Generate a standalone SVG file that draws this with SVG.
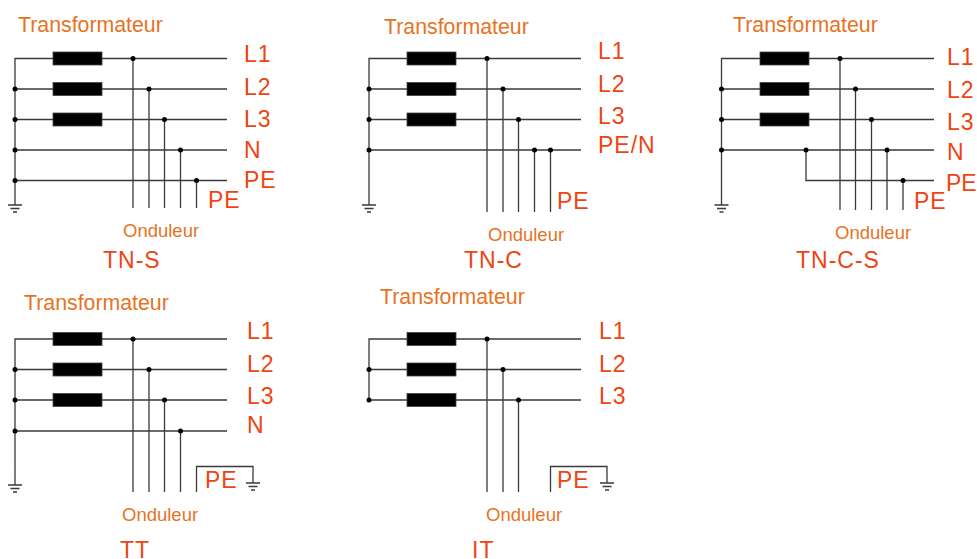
<svg xmlns="http://www.w3.org/2000/svg" width="977" height="559" viewBox="0 0 977 559">
<style>
text{font-family:"Liberation Sans",Arial,sans-serif}
.t{font-size:21.300px;fill:#e8731f}
.o{font-size:18.500px;fill:#e8731f}
.l{font-size:23px;fill:#ee4411;letter-spacing:1px}
.w{stroke:#3a3a3a;stroke-width:1.300;fill:none}
.x{fill:#000;stroke:#444;stroke-width:.8}
.d{fill:#000}
</style>
<defs>
<rect id="tr" x="0" y="-6.500" width="49" height="13" class="x"/>
<circle id="dot" r="2.500" class="d"/>
<path id="gnd" d="M-7 0H7M-4.500 3.500H4.500M-2 7H2" class="w"/>
</defs>

<g id="tn-s">
<g id="tn-s-connectors">
<path class="w" d="M15 205V58.500H227M15 89H227M15 119.500H227M15 150H227M15 180.500H227M133 58.500V208M149 89V208M164.500 119.500V208M180.500 150V208M196.500 180.500V208"/>
</g>
<use href="#gnd" x="15" y="205"/>
<use href="#tr" x="53" y="58.500"/><use href="#tr" x="53" y="89"/><use href="#tr" x="53" y="119.500"/>
<use href="#dot" x="15" y="89"/><use href="#dot" x="15" y="119.500"/><use href="#dot" x="15" y="150"/><use href="#dot" x="15" y="180.500"/>
<use href="#dot" x="133" y="58.500"/><use href="#dot" x="149" y="89"/><use href="#dot" x="164.500" y="119.500"/><use href="#dot" x="180.500" y="150"/><use href="#dot" x="196.500" y="180.500"/>
<text class="t" x="18" y="32">Transformateur</text>
<text class="l" x="244" y="62">L1</text><text class="l" x="244" y="95">L2</text><text class="l" x="244" y="127">L3</text><text class="l" x="244" y="158">N</text><text class="l" x="244" y="188">PE</text><text class="l" x="208" y="208">PE</text>
<text class="o" x="123" y="237">Onduleur</text>
<text class="l" x="103" y="268">TN-S</text>
</g>

<g id="tn-c">
<g id="tn-c-connectors">
<path class="w" d="M369 205V58.500H581M369 89H581M369 119.500H581M369 150H581M487 58.500V212M503 89V212M518.500 119.500V212M534.500 150V212M550.500 150V212"/>
</g>
<use href="#gnd" x="369" y="205"/>
<use href="#tr" x="407" y="58.500"/><use href="#tr" x="407" y="89"/><use href="#tr" x="407" y="119.500"/>
<use href="#dot" x="369" y="89"/><use href="#dot" x="369" y="119.500"/><use href="#dot" x="369" y="150"/>
<use href="#dot" x="487" y="58.500"/><use href="#dot" x="503" y="89"/><use href="#dot" x="518.500" y="119.500"/><use href="#dot" x="534.500" y="150"/><use href="#dot" x="550.500" y="150"/>
<text class="t" x="384" y="34">Transformateur</text>
<text class="l" x="598" y="59">L1</text><text class="l" x="598" y="92">L2</text><text class="l" x="598" y="124">L3</text><text class="l" x="598" y="153">PE/N</text><text class="l" x="557" y="209">PE</text>
<text class="o" x="488" y="241">Onduleur</text>
<text class="l" x="464" y="268">TN-C</text>
</g>

<g id="tn-c-s">
<g id="tn-c-s-connectors">
<path class="w" d="M721.500 205V58.500H934M721.500 89H934M721.500 119.500H934M721.500 150H934M806 150V180.500H934M840 58.500V210M855.500 89V210M871.500 119.500V210M887 150V210M903 180.500V210"/>
</g>
<use href="#gnd" x="721.500" y="205"/>
<use href="#tr" x="760" y="58.500"/><use href="#tr" x="760" y="89"/><use href="#tr" x="760" y="119.500"/>
<use href="#dot" x="721.500" y="89"/><use href="#dot" x="721.500" y="119.500"/><use href="#dot" x="721.500" y="150"/><use href="#dot" x="806" y="150"/>
<use href="#dot" x="840" y="58.500"/><use href="#dot" x="855.500" y="89"/><use href="#dot" x="871.500" y="119.500"/><use href="#dot" x="887" y="150"/><use href="#dot" x="903" y="180.500"/>
<text class="t" x="733" y="32">Transformateur</text>
<text class="l" x="947" y="65">L1</text><text class="l" x="947" y="98">L2</text><text class="l" x="947" y="130">L3</text><text class="l" x="947" y="160">N</text><text class="l" x="946" y="191" style="letter-spacing:0">PE</text><text class="l" x="914" y="209">PE</text>
<text class="o" x="835" y="239">Onduleur</text>
<text class="l" x="796" y="268">TN-C-S</text>
</g>

<g id="tt">
<g id="tt-connectors">
<path class="w" d="M15 485V339H227M15 369.500H227M15 400H227M15 431H227M133 339V492M149 369.500V492M164.500 400V492M180.500 431V492M196.500 492V466.500H253V483"/>
</g>
<use href="#gnd" x="15" y="485"/><use href="#gnd" x="253" y="483"/>
<use href="#tr" x="53" y="339"/><use href="#tr" x="53" y="369.500"/><use href="#tr" x="53" y="400"/>
<use href="#dot" x="15" y="369.500"/><use href="#dot" x="15" y="400"/><use href="#dot" x="15" y="431"/>
<use href="#dot" x="133" y="339"/><use href="#dot" x="149" y="369.500"/><use href="#dot" x="164.500" y="400"/><use href="#dot" x="180.500" y="431"/>
<text class="t" x="24" y="310">Transformateur</text>
<text class="l" x="247" y="339">L1</text><text class="l" x="247" y="372">L2</text><text class="l" x="247" y="404">L3</text><text class="l" x="247" y="433">N</text><text class="l" x="205" y="488">PE</text>
<text class="o" x="122" y="521">Onduleur</text>
<text class="l" x="120" y="558">TT</text>
</g>

<g id="it">
<g id="it-connectors">
<path class="w" d="M369 400V339H581M369 369.500H581M369 400H581M487 339V492M503 369.500V492M518.500 400V492M550.500 492V466.500H607V483"/>
</g>
<use href="#gnd" x="607" y="483"/>
<use href="#tr" x="407" y="339"/><use href="#tr" x="407" y="369.500"/><use href="#tr" x="407" y="400"/>
<use href="#dot" x="369" y="369.500"/><use href="#dot" x="369" y="400"/>
<use href="#dot" x="487" y="339"/><use href="#dot" x="503" y="369.500"/><use href="#dot" x="518.500" y="400"/>
<text class="t" x="380" y="304">Transformateur</text>
<text class="l" x="599" y="339">L1</text><text class="l" x="599" y="372">L2</text><text class="l" x="599" y="404">L3</text><text class="l" x="557" y="488">PE</text>
<text class="o" x="486" y="521">Onduleur</text>
<text class="l" x="472" y="558">IT</text>
</g>
</svg>
